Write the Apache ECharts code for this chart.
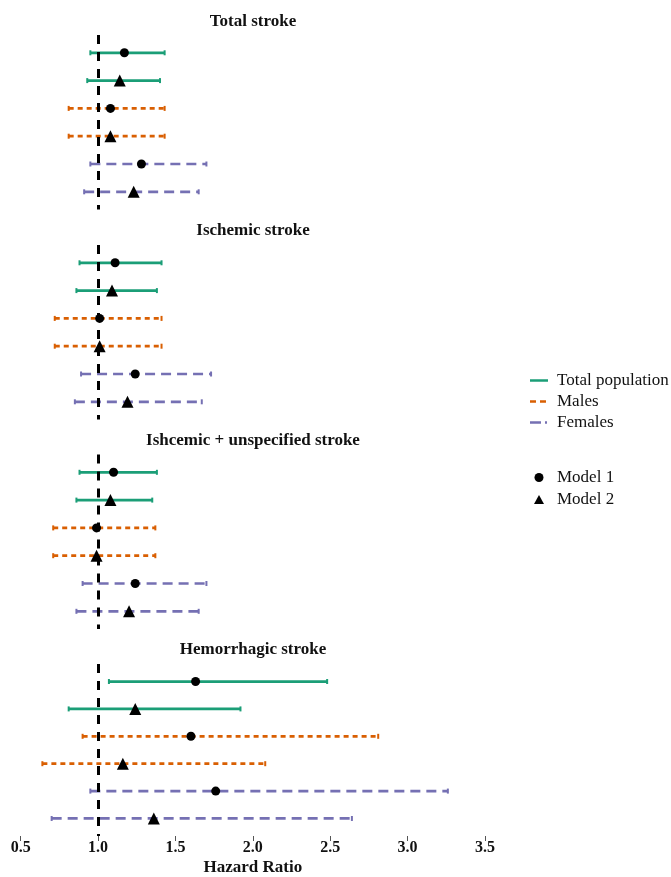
<!DOCTYPE html>
<html>
<head>
<meta charset="utf-8">
<script src="https://cdn.jsdelivr.net/npm/echarts@6/dist/echarts.min.js"></script>
<style>
  html, body { margin: 0; padding: 0; background: #fff; }
  #chart { width: 671px; height: 877px; }
</style>
</head>
<body>
<div id="chart"></div>
<script>
// panels, groups, models
const panels = ['Total stroke', 'Ischemic stroke', 'Ishcemic + unspecified stroke', 'Hemorrhagic stroke'];
const groups = ['Total population', 'Males', 'Females'];
const models = ['Model 1', 'Model 2'];
const xTicks = [0.5, 1.0, 1.5, 2.0, 2.5, 3.0, 3.5];

// rows per panel: Total M1, Total M2, Males M1, Males M2, Females M1, Females M2
const totalHR = [1.17, 1.14, 1.08, 1.08, 1.28, 1.23];
const totalLow = [0.95, 0.93, 0.81, 0.81, 0.95, 0.91];
const totalHigh = [1.43, 1.40, 1.43, 1.43, 1.70, 1.65];

const ischemicHR = [1.11, 1.09, 1.01, 1.01, 1.24, 1.19];
const ischemicLow = [0.88, 0.86, 0.72, 0.72, 0.89, 0.85];
const ischemicHigh = [1.41, 1.38, 1.41, 1.41, 1.73, 1.67];

const unspecHR = [1.10, 1.08, 0.99, 0.99, 1.24, 1.20];
const unspecLow = [0.88, 0.86, 0.71, 0.71, 0.90, 0.86];
const unspecHigh = [1.38, 1.35, 1.37, 1.37, 1.70, 1.65];

const hemorrhagicHR = [1.63, 1.24, 1.60, 1.16, 1.76, 1.36];
const hemorrhagicLow = [1.07, 0.81, 0.90, 0.64, 0.95, 0.70];
const hemorrhagicHigh = [2.48, 1.92, 2.81, 2.08, 3.26, 2.64];

const panelData = [
  [totalHR, totalLow, totalHigh],
  [ischemicHR, ischemicLow, ischemicHigh],
  [unspecHR, unspecLow, unspecHigh],
  [hemorrhagicHR, hemorrhagicLow, hemorrhagicHigh],
];

const groupColors = ['#1b9e77', '#d95f02', '#7570b3'];
const groupDash = [null, [5, 4], [10, 6]];
const modelSymbols = ['circle', 'triangle'];
const serif = '"Liberation Serif", "Times New Roman", serif';

const gridTops = [35, 245, 454.5, 664];
const gridHeight = 174.6;

const chart = echarts.init(document.getElementById('chart'));

const grid = gridTops.map((top) => ({ left: 20.7, right: 186, top, height: gridHeight }));

const xAxis = gridTops.map((t, i) => {
  const last = i === gridTops.length - 1;
  return {
    type: 'value',
    gridIndex: i,
    min: 0.5,
    max: 3.5,
    interval: 0.5,
    splitLine: { show: false },
    axisLine: { show: false },
    axisTick: { show: last, length: 5, lineStyle: { color: '#555', width: 1 } },
    axisLabel: {
      show: last,
      margin: 4,
      color: '#111',
      fontFamily: serif,
      fontWeight: 'bold',
      fontSize: 16,
      formatter: (v) => (xTicks.includes(v) ? v.toFixed(1) : ''),
    },
    name: last ? 'Hazard Ratio' : '',
    nameLocation: 'middle',
    nameGap: 23,
    nameTextStyle: { color: '#111', fontFamily: serif, fontWeight: 'bold', fontSize: 17 },
  };
});

const yAxis = gridTops.map((t, i) => ({
  type: 'value',
  gridIndex: i,
  inverse: true,
  min: 0.36,
  max: 6.64,
  show: false,
}));

const series = [];

panelData.forEach(([hr, low, high], p) => {
  // reference line at HR = 1
  series.push({
    type: 'line',
    xAxisIndex: p,
    yAxisIndex: p,
    data: [],
    z: 1,
    silent: true,
    markLine: {
      silent: true,
      symbol: ['none', 'none'],
      label: { show: false },
      lineStyle: { color: '#000', width: 3, type: [9, 8] },
      data: [{ xAxis: 1 }],
    },
  });

  groups.forEach((g, gi) => {
    const rows = [gi * 2, gi * 2 + 1];
    series.push({
      type: 'custom',
      name: g,
      xAxisIndex: p,
      yAxisIndex: p,
      z: 2,
      itemStyle: { color: groupColors[gi] },
      data: rows.map((r) => [low[r], high[r], r + 1]),
      renderItem: (params, api) => {
        const a = api.coord([api.value(0), api.value(2)]);
        const b = api.coord([api.value(1), api.value(2)]);
        const style = { stroke: groupColors[gi], lineWidth: 2.7, lineDash: groupDash[gi] };
        const cap = 2.5;
        return {
          type: 'group',
          children: [
            { type: 'line', shape: { x1: a[0], y1: a[1], x2: b[0], y2: b[1] }, style },
            { type: 'line', shape: { x1: a[0], y1: a[1] - cap, x2: a[0], y2: a[1] + cap }, style: { stroke: groupColors[gi], lineWidth: 2 } },
            { type: 'line', shape: { x1: b[0], y1: b[1] - cap, x2: b[0], y2: b[1] + cap }, style: { stroke: groupColors[gi], lineWidth: 2 } },
          ],
        };
      },
    });
  });

  models.forEach((m, mi) => {
    series.push({
      type: 'scatter',
      name: m,
      xAxisIndex: p,
      yAxisIndex: p,
      z: 3,
      symbol: modelSymbols[mi],
      symbolSize: mi === 0 ? 9 : 12,
      itemStyle: { color: '#000', opacity: 1 },
      data: groups.map((g, gi) => [hr[gi * 2 + mi], gi * 2 + mi + 1]),
    });
  });
});

const titleTops = [21.7, 231, 441, 650];
const legendText = { color: '#111', fontFamily: serif, fontSize: 17, lineHeight: 16, padding: [0, 0, 0, 4] };

chart.setOption({
  animation: false,
  grid,
  xAxis,
  yAxis,
  series,
  graphic: panels.map((name, i) => ({
    type: 'text',
    x: 253,
    y: titleTops[i],
    style: {
      text: name,
      align: 'center',
      verticalAlign: 'middle',
      fill: '#111',
      fontFamily: serif,
      fontWeight: 'bold',
      fontSize: 17,
    },
  })),
  legend: [
    {
      orient: 'vertical',
      left: 530,
      top: 372,
      padding: 0,
      itemWidth: 18,
      itemHeight: 3,
      itemGap: 4,
      selectedMode: false,
      textStyle: legendText,
      data: [
        { name: groups[0], icon: 'path://M0,0h18v2.5h-18z' },
        { name: groups[1], icon: 'path://M0,0h6v2.5h-6z M10,0h6v2.5h-6z M18,0h0.01v2.5h-0.01z' },
        { name: groups[2], icon: 'path://M0,0h11v2.5h-11z M15,0h2v2.5h-2z M18,0h0.01v2.5h-0.01z' },
      ],
    },
    {
      orient: 'vertical',
      left: 534,
      top: 469,
      padding: 0,
      itemWidth: 18,
      itemHeight: 9,
      itemGap: 5,
      selectedMode: false,
      textStyle: legendText,
      data: [
        { name: models[0], icon: 'circle' },
        { name: models[1], icon: 'path://M5,0L10,9L0,9Z' },
      ],
    },
  ],
});
</script>
</body>
</html>
